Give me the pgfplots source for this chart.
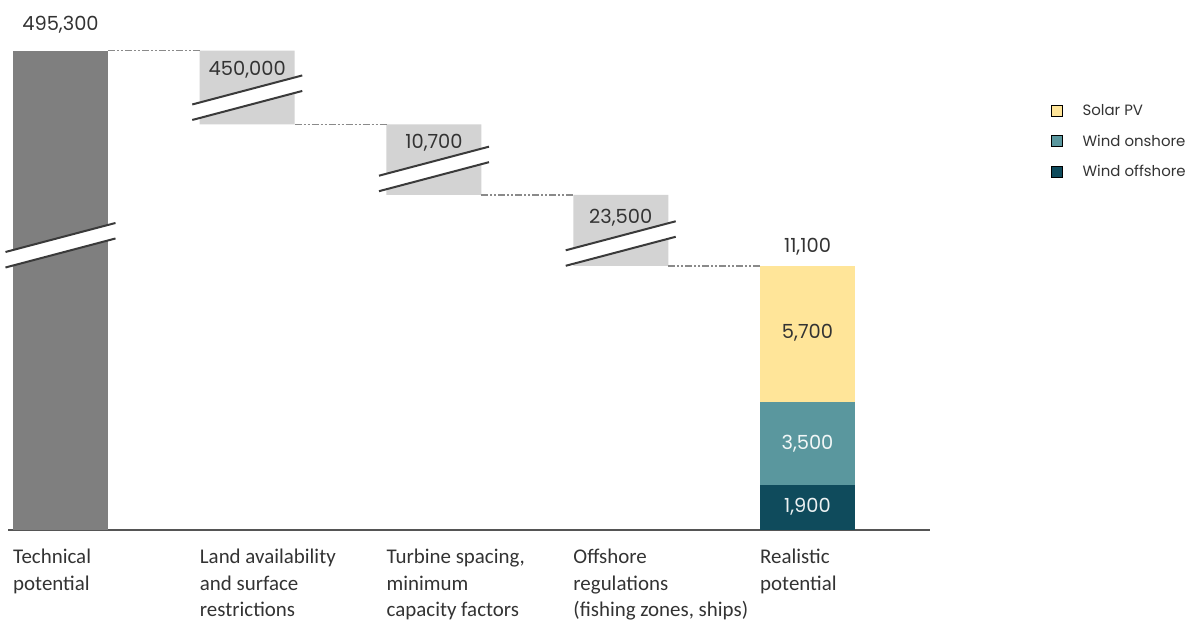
\documentclass[border=0pt]{standalone}
\usepackage{pgfplots}
\usepackage{pgfplotstable}
\pgfplotsset{compat=1.18}
\usepackage{fontspec}
\setmainfont{Poppins}
\newfontfamily\catfont{Carlito}
\definecolor{techgray}{HTML}{7F7F7F}
\definecolor{stepgray}{HTML}{D3D3D3}
\definecolor{solar}{HTML}{FFE599}
\definecolor{onshore}{HTML}{5A979E}
\definecolor{offshore}{HTML}{0F4B5C}
\definecolor{txt}{HTML}{333333}
\definecolor{conncol}{HTML}{8A8A8A}
\definecolor{axisgray}{HTML}{555555}
\definecolor{brk}{HTML}{3A3A3A}

% display heights (axis is broken above 11,100)
\pgfplotstableread{
x base tech step off on solar
0 0 20150 0 0 0 0
1 17058 0 3092 0 0 0
2 14085 0 2973 0 0 0
3 11100 0 2985 0 0 0
4 0 0 0 1900 3500 5700
}\wfdata

\pgfplotsset{common/.style={
  at={(8bp,91bp)}, anchor=south west,
  scale only axis, width=922bp, height=499.5bp,
  xmin=-0.2811, xmax=4.656, ymin=0, ymax=21000,
  clip=false},
  connline/.style={draw=conncol, line width=1.2bp, dash pattern=on 7bp off 2bp on 2bp off 2bp on 2bp off 2bp, forget plot}}

\begin{document}
\begin{tikzpicture}
\useasboundingbox (0,0) rectangle (1190bp,621bp);
\begin{axis}[common,
  ybar stacked, bar width=0.5087,
  axis x line*=bottom, axis y line=none,
  x axis line style={draw=axisgray, line width=2bp, -},
  xtick={0,1,2,3,4},
  xticklabels={{Technical\\potential},{Land availability\\and surface\\restrictions},{Turbine spacing,\\minimum\\capacity factors},{Offshore\\regulations\\(fishing zones, ships)},{Realistic\\potential}},
  major tick length=0,
  xticklabel style={font=\catfont\fontsize{21}{26.5}\selectfont, anchor=north west, align=left, xshift=-47.5bp, yshift=-19bp, text=txt, inner sep=0pt},
]
\addplot[draw=none, fill=none] table[x=x,y=base]{\wfdata};
\addplot[draw=none, fill=techgray] table[x=x,y=tech]{\wfdata};
\addplot[draw=none, fill=stepgray] table[x=x,y=step]{\wfdata};
\addplot[draw=none, fill=offshore] table[x=x,y=off]{\wfdata};
\addplot[draw=none, fill=onshore] table[x=x,y=on]{\wfdata};
\addplot[draw=none, fill=solar] table[x=x,y=solar]{\wfdata};
\end{axis}

\begin{axis}[common, hide axis,
  legend image code/.code={\fill[#1] (0bp,-5.5bp) rectangle (11bp,5.5bp);},
  legend style={at={(1.128,0.861)}, anchor=north west, draw=none, fill=none,
    font=\fontsize{15}{18}\selectfont, text=txt, row sep=14bp,
    /tikz/every odd column/.append style={column sep=18bp}},
  legend cell align=left,
]
% connectors
\addplot[connline] coordinates {(0.2543,20150) (0.7457,20150)};
\addplot[connline] coordinates {(1.2543,17058) (1.7457,17058)};
\addplot[connline] coordinates {(2.2543,14085) (2.7457,14085)};
\addplot[connline] coordinates {(3.2543,11100) (3.7457,11100)};
% break marks: white gap + two lines (rising to the right)
\addplot[fill=white, draw=none, forget plot] coordinates {(-0.2945,11688) (0.2945,12908) (0.2945,12256) (-0.2945,11036)} -- cycle;
\addplot[brk, line width=2bp, forget plot] coordinates {(-0.2945,11688) (0.2945,12908)};
\addplot[brk, line width=2bp, forget plot] coordinates {(-0.2945,11036) (0.2945,12256)};
\addplot[fill=white, draw=none, forget plot] coordinates {(0.7055,17890) (1.2945,19110) (1.2945,18458) (0.7055,17238)} -- cycle;
\addplot[brk, line width=2bp, forget plot] coordinates {(0.7055,17890) (1.2945,19110)};
\addplot[brk, line width=2bp, forget plot] coordinates {(0.7055,17238) (1.2945,18458)};
\addplot[fill=white, draw=none, forget plot] coordinates {(1.7055,14896) (2.2945,16116) (2.2945,15464) (1.7055,14244)} -- cycle;
\addplot[brk, line width=2bp, forget plot] coordinates {(1.7055,14896) (2.2945,16116)};
\addplot[brk, line width=2bp, forget plot] coordinates {(1.7055,14244) (2.2945,15464)};
\addplot[fill=white, draw=none, forget plot] coordinates {(2.7055,11760) (3.2945,12980) (3.2945,12328) (2.7055,11108)} -- cycle;
\addplot[brk, line width=2bp, forget plot] coordinates {(2.7055,11760) (3.2945,12980)};
\addplot[brk, line width=2bp, forget plot] coordinates {(2.7055,11108) (3.2945,12328)};
% value labels
\begin{scope}[every node/.style={font=\fontsize{19.5}{22}\selectfont, text=txt, inner sep=0pt}]
\node at (axis cs:0,21233) {495,300};
\node at (axis cs:1,19341) {450,000};
\node at (axis cs:2,16271) {10,700};
\node at (axis cs:3,13118) {23,500};
\node at (axis cs:4,11899) {11,100};
\node[text=black!80] at (axis cs:4,8283) {5,700};
\node[text=white!92!onshore] at (axis cs:4,3616) {3,500};
\node[text=white!92!offshore] at (axis cs:4,967) {1,900};
\end{scope}
% legend
\addlegendimage{fill=solar}
\addlegendentry{Solar PV}
\addlegendimage{fill=onshore}
\addlegendentry{Wind onshore}
\addlegendimage{fill=offshore}
\addlegendentry{Wind offshore}
\end{axis}
\end{tikzpicture}
\end{document}
